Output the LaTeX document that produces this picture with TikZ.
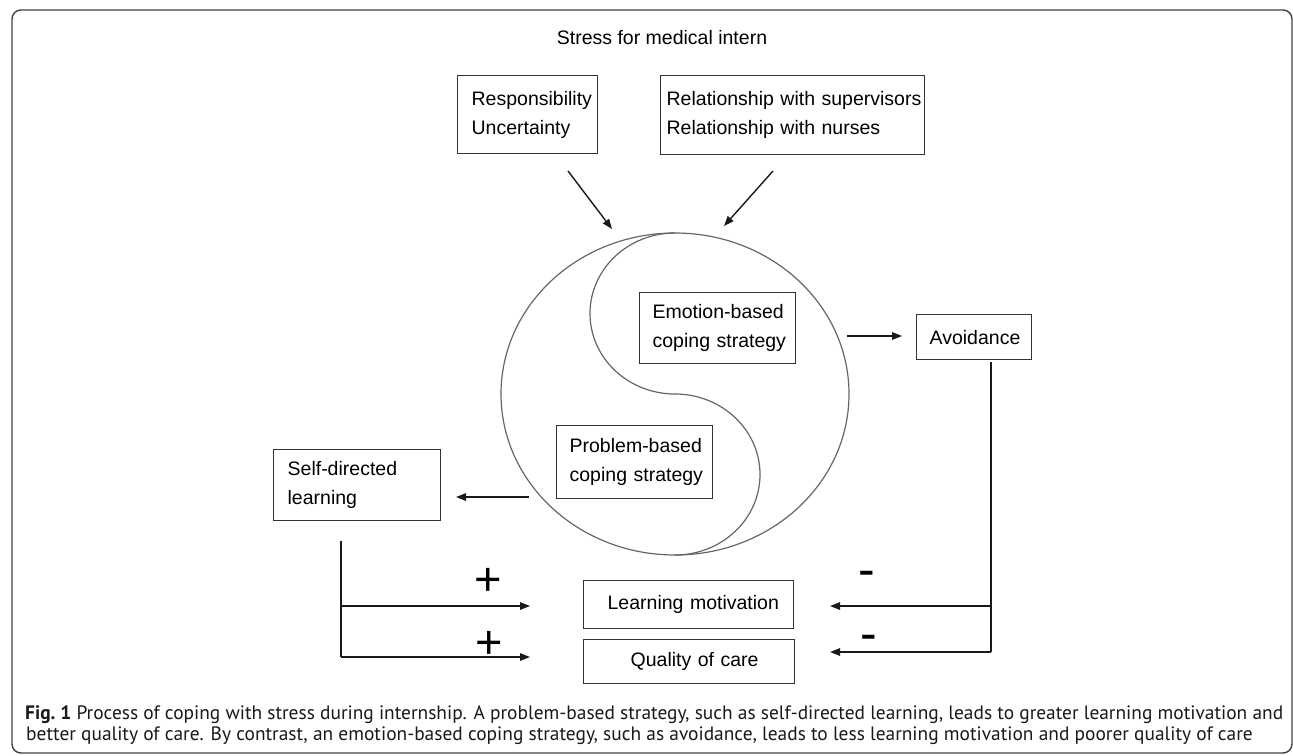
\documentclass[tikz,border=0pt]{standalone}
\usepackage{fontspec}
\setmainfont{Liberation Sans}
\newfontfamily\capfont{PT Sans}
\usetikzlibrary{arrows.meta}
\newlength\capwA
\begin{document}
\settowidth\capwA{\capfont\fontsize{18}{18}\selectfont\textbf{Fig.~1} Process of coping with stress during internship. A problem-based strategy, such as self-directed learning, leads to greater learning motivation and}%
\pgfmathsetmacro\capsz{1258/\capwA*18}%
\begin{tikzpicture}[x=1pt,y=-1pt,
  box/.style={draw=black!80, line width=1.3pt, anchor=north west, inner ysep=0pt, align=left,
              font=\fontsize{19.5}{29}\selectfont},
  arr/.style={-{Triangle[length=10pt,width=7.5pt]}, line width=1.4pt, draw=black!90},
  ln/.style={line width=1.4pt, draw=black!90},
  ring/.style={draw=black!60, line width=1.2pt},
  sign/.style={anchor=base, inner sep=0pt},
  captext/.style={anchor=base west, inner sep=0pt, text=black!90}
]
\useasboundingbox (0,0) rectangle (1293,755);
% frame
\draw[draw=black!75, line width=1.4pt, rounded corners=9pt] (12,10) rectangle (1292,753);

% title
\node[anchor=base, inner sep=0pt, font=\fontsize{19.5}{29}\selectfont] (title) at (662,44) {Stress for medical intern};

% stressor boxes
\node[box, inner xsep=14pt, text width=112pt, minimum height=78pt] (resp) at (457,75)
  {\mbox{Responsibility}\\\mbox{Uncertainty}};
\node[box, inner xsep=6pt, text width=252pt, minimum height=79pt] (rel) at (660,75)
  {\mbox{Relationship with supervisors}\\\mbox{Relationship with nurses}};

% yin-yang
\draw[ring] (675,394) ellipse [x radius=174pt, y radius=161pt];
\draw[ring] (675,233) arc[start angle=90, end angle=270, x radius=85pt, y radius=80.5pt]
                      arc[start angle=90, end angle=-90, x radius=85pt, y radius=80.5pt];

\node[box, inner xsep=13pt, text width=130pt, minimum height=71pt] (emo) at (639,292)
  {\mbox{Emotion-based}\\\mbox{coping strategy}};
\node[box, inner xsep=13pt, text width=130pt, minimum height=73pt] (prob) at (556,425)
  {\mbox{Problem-based}\\\mbox{coping strategy}};

\node[box, inner xsep=13pt, text width=89pt, minimum height=45pt] (avoid) at (916,314)
  {\mbox{Avoidance}};
\node[box, inner xsep=14pt, text width=139pt, minimum height=71pt] (sdl) at (273,449)
  {\mbox{Self-directed}\\\mbox{learning}};

\node[box, inner xsep=24pt, text width=162pt, minimum height=48pt] (lm) at (583,580)
  {\mbox{Learning motivation}};
\node[box, inner xsep=47pt, text width=117pt, minimum height=44pt] (qc) at (583,639)
  {\mbox{Quality of care}};

% connector end points
\coordinate (r1) at (568,171); \coordinate (r2) at (612,229);
\coordinate (s1) at (773,171); \coordinate (s2) at (724,226);
\coordinate (e1) at (847,336); \coordinate (e2) at (902,336);
\coordinate (p1) at (529,497); \coordinate (p2) at (456,497);
\coordinate (L0) at (341,541); \coordinate (L1) at (341,606); \coordinate (L2) at (341,657);
\coordinate (L1e) at (530,606); \coordinate (L2e) at (530,657);
\coordinate (R0) at (991,362); \coordinate (R1) at (991,606); \coordinate (R2) at (991,652);
\coordinate (R1e) at (830,606); \coordinate (R2e) at (830,652);

\draw[arr] (r1) -- (r2);
\draw[arr] (s1) -- (s2);
\draw[arr] (e1) -- (e2);
\draw[arr] (p1) -- (p2);
\draw[ln] (L0) -- (L2);
\draw[arr] (L1) -- (L1e);
\draw[arr] (L2) -- (L2e);
\draw[ln] (R0) -- (R2);
\draw[arr] (R1) -- (R1e);
\draw[arr] (R2) -- (R2e);

% signs
\node[sign, font=\fontsize{47}{47}\selectfont] (plus1) at (488,595) {+};
\node[sign, font=\fontsize{47}{47}\selectfont] (plus2) at (489,658) {+};
\node[sign, font=\fontsize{50}{50}\selectfont] (minus1) at (867,586) {-};
\node[sign, font=\fontsize{50}{50}\selectfont] (minus2) at (869,650) {-};

% caption
\node[captext, font=\capfont\fontsize{\capsz}{\capsz}\selectfont] (cap1) at (25,719)
  {\textbf{Fig.~1} Process of coping with stress during internship. A problem-based strategy, such as self-directed learning, leads to greater learning motivation and};
\node[captext, font=\capfont\fontsize{\capsz}{\capsz}\selectfont] (cap2) at (26,740)
  {better quality of care. By contrast, an emotion-based coping strategy, such as avoidance, leads to less learning motivation and poorer quality of care};
\end{tikzpicture}
\end{document}
